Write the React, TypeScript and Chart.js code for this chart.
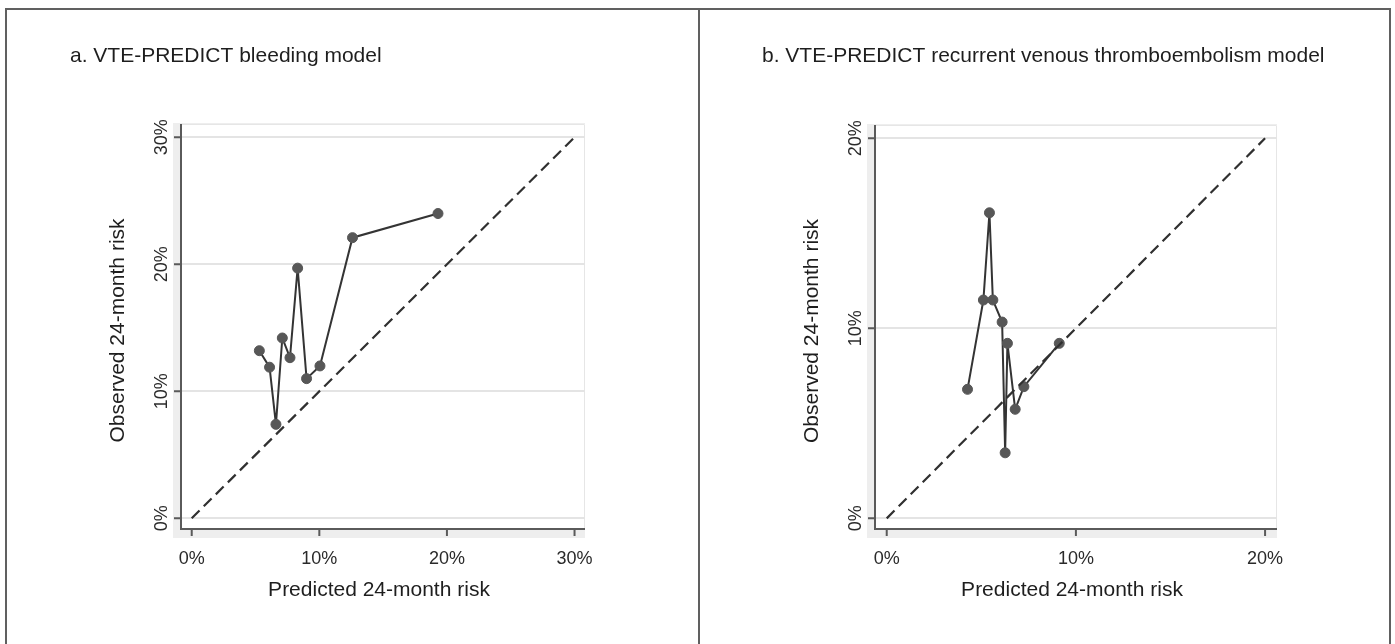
import React, { useEffect, useRef } from 'react';
import { Chart, registerables } from 'chart.js';

Chart.register(...registerables);

const FONT = '"Liberation Sans", Arial, Helvetica, sans-serif';

// a. bleeding model: predicted vs observed 24-month risk (%)
const bleedPredicted = [5.3, 6.1, 6.6, 7.1, 7.7, 8.3, 9.0, 10.05, 12.6, 19.3];
const bleedObserved = [13.2, 11.9, 7.4, 14.2, 12.65, 19.7, 11.0, 12.0, 22.1, 24.0];
const bleedTicks = [0, 10, 20, 30];

// b. recurrent VTE model: predicted vs observed 24-month risk (%)
const vtePredicted = [4.27, 5.11, 5.43, 5.61, 6.1, 6.26, 6.38, 6.79, 7.25, 9.12];
const vteObserved = [6.79, 11.49, 16.08, 11.49, 10.33, 3.45, 9.21, 5.74, 6.93, 9.21];
const vteTicks = [0, 10, 20];

const xAxisTitle = 'Predicted 24-month risk';
const yAxisTitle = 'Observed 24-month risk';

type Area = { left: number; top: number; right: number; bottom: number };

type PanelProps = {
  title: string;
  titleX: number;
  predicted: number[];
  observed: number[];
  ticks: number[];
  xRange: [number, number];
  yRange: [number, number];
  width: number;
  height: number;
  area: Area;
};

function makeChrome(title: string, titleX: number, ticks: number[]) {
  return {
    id: 'stataChrome',
    beforeDraw(chart: any) {
      const { ctx, chartArea: a } = chart;
      ctx.save();
      // shaded margin along the left and bottom axes
      ctx.fillStyle = '#eeeeee';
      ctx.fillRect(a.left - 8, a.top - 1, a.right - a.left + 8, a.bottom - a.top + 10);
      ctx.fillStyle = '#ffffff';
      ctx.fillRect(a.left, a.top, a.right - a.left, a.bottom - a.top);
      // faint plot-region outline on the top and right
      ctx.strokeStyle = '#e6e6e6';
      ctx.lineWidth = 1;
      ctx.beginPath();
      ctx.moveTo(a.left, a.top + 0.5);
      ctx.lineTo(a.right - 0.5, a.top + 0.5);
      ctx.lineTo(a.right - 0.5, a.bottom);
      ctx.stroke();
      ctx.restore();
    },
    afterDraw(chart: any) {
      const { ctx, chartArea: a } = chart;
      const xs = chart.scales.x;
      const ys = chart.scales.y;
      ctx.save();

      // axis lines and outward ticks
      ctx.strokeStyle = '#5a5a5a';
      ctx.lineWidth = 2;
      ctx.beginPath();
      ctx.moveTo(a.left, a.top);
      ctx.lineTo(a.left, a.bottom);
      ctx.lineTo(a.right, a.bottom);
      ctx.stroke();
      ctx.beginPath();
      for (const v of ticks) {
        const py = ys.getPixelForValue(v);
        ctx.moveTo(a.left - 7, py);
        ctx.lineTo(a.left, py);
        const px = xs.getPixelForValue(v);
        ctx.moveTo(px, a.bottom);
        ctx.lineTo(px, a.bottom + 7);
      }
      ctx.stroke();

      ctx.fillStyle = '#2a2a2a';
      // x tick labels
      ctx.font = `18px ${FONT}`;
      ctx.textAlign = 'center';
      ctx.textBaseline = 'alphabetic';
      for (const v of ticks) {
        ctx.fillText(`${v}%`, xs.getPixelForValue(v), a.bottom + 35);
      }
      // y tick labels, rotated
      for (const v of ticks) {
        ctx.save();
        ctx.translate(a.left - 14, ys.getPixelForValue(v));
        ctx.rotate(-Math.PI / 2);
        ctx.fillText(`${v}%`, 0, 0);
        ctx.restore();
      }

      // axis titles, centred on the plot region including its margin
      ctx.font = `21px ${FONT}`;
      ctx.fillStyle = '#1e1e1e';
      ctx.fillText(xAxisTitle, (a.left - 8 + a.right) / 2, a.bottom + 67);
      ctx.save();
      ctx.translate(a.left - 57, (a.top - 1 + a.bottom + 9) / 2);
      ctx.rotate(-Math.PI / 2);
      ctx.fillText(yAxisTitle, 0, 0);
      ctx.restore();

      // panel title
      ctx.textAlign = 'left';
      ctx.fillText(title, titleX, 62);
      ctx.restore();
    },
  };
}

function CalibrationPanel(props: PanelProps) {
  const ref = useRef<HTMLCanvasElement | null>(null);

  useEffect(() => {
    const canvas = ref.current;
    if (!canvas) return;
    const { area, width, height, ticks } = props;
    const diagMax = ticks[ticks.length - 1];
    const points = props.predicted.map((x, i) => ({ x, y: props.observed[i] }));

    const chart = new Chart(canvas, {
      type: 'line',
      data: {
        datasets: [
          {
            label: 'Reference',
            data: [
              { x: 0, y: 0 },
              { x: diagMax, y: diagMax },
            ],
            borderColor: '#303030',
            borderWidth: 2.2,
            borderDash: [11, 6],
            pointRadius: 0,
            fill: false,
          },
          {
            label: 'Observed',
            data: points,
            borderColor: '#343434',
            borderWidth: 2,
            pointRadius: 5,
            pointBackgroundColor: '#575757',
            pointBorderColor: '#575757',
            pointBorderWidth: 1,
            fill: false,
            tension: 0,
          },
        ],
      },
      options: {
        animation: false,
        responsive: false,
        maintainAspectRatio: false,
        events: [],
        layout: {
          padding: { left: 0, top: area.top, right: width - area.right, bottom: 0 },
        },
        plugins: {
          legend: { display: false },
          tooltip: { enabled: false },
          title: { display: false },
        },
        scales: {
          x: {
            type: 'linear',
            min: props.xRange[0],
            max: props.xRange[1],
            grid: { display: false },
            border: { display: false },
            ticks: { display: false },
            afterFit: (s: any) => {
              s.height = height - area.bottom;
            },
          },
          y: {
            type: 'linear',
            min: props.yRange[0],
            max: props.yRange[1],
            grid: { color: '#e4e4e4', lineWidth: 2, drawTicks: false },
            border: { display: false },
            ticks: { display: false, includeBounds: false },
            afterBuildTicks: (s: any) => {
              s.ticks = ticks.map((v) => ({ value: v }));
            },
            afterFit: (s: any) => {
              s.width = area.left;
            },
          },
        },
      },
      plugins: [makeChrome(props.title, props.titleX, ticks)],
    } as any);

    return () => chart.destroy();
  }, []);

  return (
    <canvas
      ref={ref}
      width={props.width}
      height={props.height}
      style={{ width: props.width, height: props.height, display: 'block' }}
    />
  );
}

export default function App() {
  return (
    <div
      style={{
        position: 'absolute',
        left: 0,
        top: 0,
        width: 1395,
        height: 644,
        overflow: 'hidden',
        background: '#ffffff',
      }}
    >
      <div style={{ position: 'absolute', left: 0, top: 0 }}>
        <CalibrationPanel
          title="a. VTE-PREDICT bleeding model"
          titleX={70}
          predicted={bleedPredicted}
          observed={bleedObserved}
          ticks={bleedTicks}
          xRange={[-0.84, 30.82]}
          yRange={[-0.84, 31.05]}
          width={697}
          height={644}
          area={{ left: 181, top: 124, right: 585, bottom: 529 }}
        />
      </div>
      <div style={{ position: 'absolute', left: 700, top: 0 }}>
        <CalibrationPanel
          title="b. VTE-PREDICT recurrent venous thromboembolism model"
          titleX={62}
          predicted={vtePredicted}
          observed={vteObserved}
          ticks={vteTicks}
          xRange={[-0.62, 20.63]}
          yRange={[-0.56, 20.7]}
          width={695}
          height={644}
          area={{ left: 175, top: 125, right: 577, bottom: 529 }}
        />
      </div>
      {/* figure frame and panel divider */}
      <div
        style={{
          position: 'absolute',
          left: 5,
          top: 8,
          width: 1386,
          height: 700,
          border: '2px solid #606060',
          boxSizing: 'border-box',
          pointerEvents: 'none',
        }}
      />
      <div
        style={{
          position: 'absolute',
          left: 698,
          top: 8,
          width: 2,
          height: 700,
          background: '#606060',
          pointerEvents: 'none',
        }}
      />
    </div>
  );
}
